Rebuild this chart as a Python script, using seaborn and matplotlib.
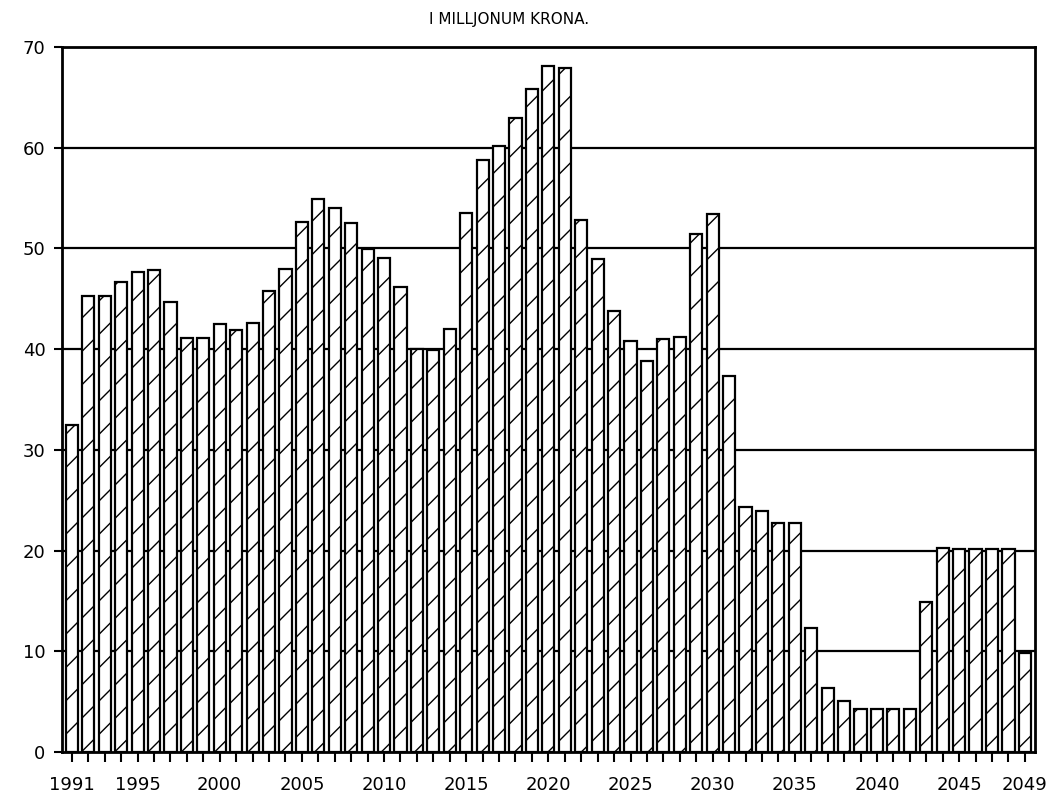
import numpy as np
import pandas as pd
import matplotlib
matplotlib.use("Agg")
import matplotlib.pyplot as plt
import seaborn as sns

# Data (millions of kronur per year)
years = list(range(1991, 2050))
values = [
    32.5, 45.3, 45.3, 46.7, 47.7, 47.9, 44.7, 41.1, 41.1, 42.5,
    41.9, 42.6, 45.8, 48.0, 52.6, 54.9, 54.0, 52.5, 49.9, 49.0,
    46.2, 40.0, 39.9, 42.0, 53.5, 58.8, 60.2, 62.9, 65.8, 68.1,
    67.9, 52.8, 48.9, 43.8, 40.8, 38.8, 41.0, 41.2, 51.4, 53.4,
    37.3, 24.3, 23.9, 22.7, 22.7, 12.3, 6.4, 5.1, 4.3, 4.3,
    4.3, 4.3, 14.9, 20.3, 20.2, 20.2, 20.2, 20.2, 9.8,
]
labelled_years = [1991, 1995, 2000, 2005, 2010, 2015, 2020, 2025,
                  2030, 2035, 2040, 2045, 2049]
title = "I MILLJONUM KRONA."

df = pd.DataFrame({"year": years, "value": values})

sns.set_style("white")
plt.rcParams["font.family"] = ["DejaVu Sans"]
plt.rcParams["hatch.linewidth"] = 1.0
plt.rcParams["hatch.color"] = "black"

fig = plt.figure(figsize=(10.58, 8.1), dpi=100)
ax = fig.add_axes([0.0586, 0.0716, 0.9194, 0.8704])

# horizontal grid behind the bars
for y in range(10, 70, 10):
    ax.axhline(y, color="black", lw=1.6, zorder=0)

sns.barplot(data=df, x="year", y="value", color="white", width=0.74,
            edgecolor="black", linewidth=1.6, hatch="/", ax=ax, zorder=2)

ax.set_xlim(-0.6, len(years) - 0.4)
ax.set_ylim(0, 70)
ax.set_yticks(range(0, 71, 10))
ax.set_xticks(range(len(years)))
ax.set_xticklabels([str(y) if y in labelled_years else "" for y in years])
ax.set_xlabel("")
ax.set_ylabel("")

ax.tick_params(axis="x", direction="out", length=7, width=1.5,
               labelsize=13, pad=10, bottom=True, colors="black")
ax.tick_params(axis="y", direction="out", length=6, width=1.5,
               labelsize=13, pad=6, left=True, colors="black")

for side in ["left", "right", "top", "bottom"]:
    ax.spines[side].set_visible(True)
    ax.spines[side].set_color("black")
    ax.spines[side].set_linewidth(2)

fig.text(0.481, 0.976, title, ha="center", va="center", fontsize=11,
         color="black")

fig.savefig("out.png", dpi=100)
